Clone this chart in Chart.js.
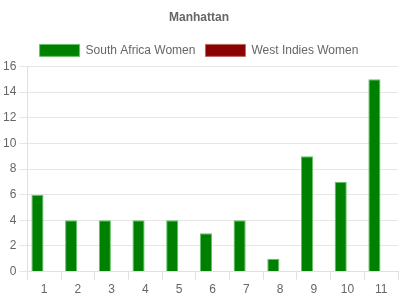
<!DOCTYPE html>
<html>
<head>
<meta charset="utf-8">
<script src="https://cdn.jsdelivr.net/npm/chart.js@4"></script>
<style>
    html, body { margin: 0; padding: 0; background: #fff; }
    #wrap { width: 400px; height: 300px; }
</style>
</head>
<body>
<div id="wrap"><canvas id="chart"></canvas></div>
<script>
// Overs and runs per over
const OVERS = ['1', '2', '3', '4', '5', '6', '7', '8', '9', '10', '11'];
const SOUTH_AFRICA = [6, 4, 4, 4, 4, 3, 4, 1, 9, 7, 15];
const WEST_INDIES = [null, null, null, null, null, null, null, null, null, null, null];

const FONT = 'Arial, "Liberation Sans", sans-serif';
Chart.defaults.font.family = FONT;
Chart.defaults.color = '#666';

new Chart(document.getElementById('chart').getContext('2d'), {
    type: 'bar',
    data: {
        labels: OVERS,
        datasets: [
            {
                label: 'South Africa Women',
                data: SOUTH_AFRICA,
                backgroundColor: '#008000',
                borderColor: '#66c266',
                borderWidth: 1
            },
            {
                label: 'West Indies Women',
                data: WEST_INDIES,
                backgroundColor: '#8b0000',
                borderColor: '#c06666',
                borderWidth: 1
            }
        ]
    },
    options: {
        responsive: true,
        maintainAspectRatio: false,
        animation: false,
        layout: { padding: { left: 0, right: 2, top: 0, bottom: 0 } },
        plugins: {
            title: {
                display: true,
                text: 'Manhattan',
                color: '#666',
                font: { size: 12, weight: 'bold' },
                padding: { top: 10, bottom: 10 }
            },
            legend: {
                position: 'top',
                labels: {
                    color: '#666',
                    boxWidth: 40,
                    boxHeight: 12,
                    font: { size: 12 }
                }
            },
            tooltip: { enabled: false }
        },
        scales: {
            x: {
                grid: { drawOnChartArea: false, color: '#e0e0e0', tickLength: 8 },
                border: { color: '#e0e0e0' },
                ticks: { color: '#666', font: { size: 12 } }
            },
            y: {
                beginAtZero: true,
                min: 0,
                max: 16,
                ticks: { stepSize: 2, color: '#666', font: { size: 12 } },
                grid: { color: '#e6e6e6', tickLength: 8 },
                border: { color: '#e0e0e0' }
            }
        }
    }
});
</script>
</body>
</html>
